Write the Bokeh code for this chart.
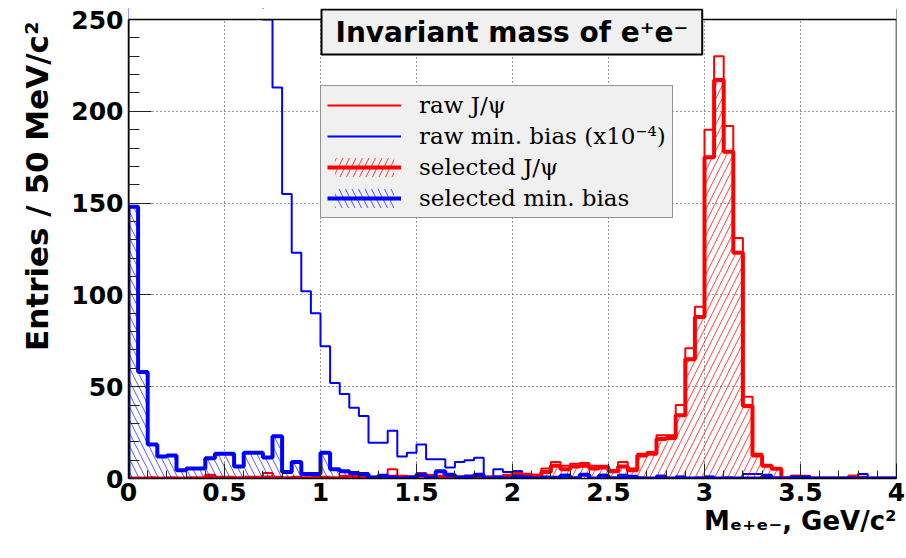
import numpy as np
from bokeh.plotting import figure
from bokeh.models import (Range1d, SingleIntervalTicker, Legend, LegendItem, Label,
                          NumeralTickFormatter, Title, BoxAnnotation, Span)
from bokeh.embed import file_html
from bokeh.resources import INLINE

# ---------------- data (entries per 50 MeV/c^2 bin, 0 .. 4 GeV/c^2) ----------------
BIN_WIDTH = 0.05
N_BINS = 80
X_MIN, X_MAX = 0.0, 4.0
Y_MIN, Y_MAX = 0.0, 250.0

raw_jpsi = [0, 0, 0.5, 0, 0.5, 0, 0.5, 0.5, 2, 1,
            1, 0.5, 1, 1, 3, 1, 0.5, 1, 0.5, 1,
            1, 0.5, 1.5, 2.5, 2.5, 1, 1.5, 5, 1.5, 1,
            3, 2, 1.5, 2, 1, 1.5, 1.5, 1, 1, 2,
            4, 2.5, 2, 5.5, 9, 7, 8, 8.5, 7, 7,
            4.5, 9, 5.5, 13.5, 14.5, 23.5, 23.5, 40, 71, 93.5,
            190, 230, 192, 131, 44.5, 13.5, 7, 5.5, 0.5, 1.5,
            1.5, 0, 0, 0, 0, 1.5, 1, 0, 0, 0]

# raw minimum bias, scaled by 1e-4 (bins below 0.7 GeV/c^2 are off scale)
raw_minbias = [1400, 1250, 1100, 950, 850, 760, 680, 600, 530, 470,
               410, 360, 320, 280, 250, 213, 155, 123, 102, 90,
               72, 52, 46, 38.5, 34, 19.5, 19.5, 26, 12, 14,
               18.5, 10.5, 10.5, 6, 9, 10, 11.3, 1, 5, 3.5,
               4, 0.5, 0, 0.5, 1, 2, 0.5, 2.5, 0, 2,
               0.5, 2, 0, 0.5, 0, 1.5, 0, 1, 0, 0.5,
               1, 0, 0.5, 0, 2.5, 2.5, 2, 0.5, 0, 1,
               1, 0, 0, 0, 0, 0, 2.5, 0, 0, 0]

sel_jpsi = [0, 0, 0, 0, 0, 0, 0, 0, 1, 0,
            0, 0, 0, 0, 0.5, 0, 0, 0, 0, 0,
            0, 0, 0.5, 1, 1, 0, 0.5, 1, 0.5, 0.5,
            1.5, 1, 0.5, 1, 0.5, 1, 0.5, 0.5, 0.5, 1,
            2.5, 2, 1.5, 3.5, 7, 5, 6.5, 7, 5.5, 6,
            4, 6.5, 4.5, 12.5, 13.5, 21.5, 22, 34.5, 65, 88,
            175, 217, 178, 123, 39.5, 12.5, 7, 5.3, 0, 1,
            0.5, 0, 0, 0, 0, 1, 0, 0, 0, 0]

sel_minbias = [148, 58, 18.5, 12, 12.5, 4.5, 5.5, 5.5, 11, 13.5,
               13.5, 6.5, 14, 14, 11.5, 23, 3.5, 9, 2.5, 2.5,
               14, 5, 4, 3, 2.5, 0.5, 1.5, 0.5, 0, 0.5,
               2, 0.5, 4, 2, 0.5, 1, 2, 0, 0.5, 0,
               1, 0.5, 0, 0.5, 0, 1.5, 0, 2, 0, 1.5,
               0, 0.5, 1, 0, 0, 1, 0, 0.5, 0, 0,
               0.5, 0, 0, 0, 0, 0, 1, 0, 0, 0.5,
               0.5, 0, 0, 0, 0, 0, 0, 0, 0, 0]

labels = ["raw J/\u03c8", "raw min. bias (x10\u207b\u2074)",
          "selected J/\u03c8", "selected min. bias"]
title_text = "Invariant mass of e\u207ae\u207b"
x_title = "M\u2091\u208a\u2091\u208b, GeV/c\u00b2"
y_title = "Entries / 50 MeV/c\u00b2"

edges = np.round(np.arange(N_BINS + 1) * BIN_WIDTH, 3)
lefts, rights = edges[:-1], edges[1:]

RED, BLUE = "#ff0000", "#0000ff"

# ---------------- geometry (pixels) ----------------
W, H = 906, 558
B_LEFT, B_RIGHT, B_BOTTOM = 128, 10, 80
AXIS_TOP_PX = 19          # canvas y where the y axis ends (value Y_MAX)
CANVAS_TOP_PX = 8         # frame extends up to here so the title box is not clipped
FRAME_BOTTOM_PX = H - B_BOTTOM
axis_px = FRAME_BOTTOM_PX - AXIS_TOP_PX
frame_px = FRAME_BOTTOM_PX - CANVAS_TOP_PX
y_end = Y_MIN + (Y_MAX - Y_MIN) * frame_px / axis_px


def outline(vals):
    xs = [float(edges[0])] + [float(e) for e in edges]
    ys = [0.0] + [float(v) for v in vals] + [0.0]
    return xs, ys


p = figure(width=W, height=H, output_backend="svg", toolbar_location=None,
           x_range=Range1d(X_MIN, X_MAX), y_range=Range1d(Y_MIN, y_end),
           min_border_left=B_LEFT, min_border_right=B_RIGHT,
           min_border_top=CANVAS_TOP_PX, min_border_bottom=B_BOTTOM)
p.background_fill_color = "white"
p.border_fill_color = "white"
p.outline_line_color = None

# axes
p.xaxis.ticker = SingleIntervalTicker(interval=0.5, num_minor_ticks=5)
p.yaxis.ticker = SingleIntervalTicker(interval=50, num_minor_ticks=5)
p.yaxis.bounds = (Y_MIN, Y_MAX)
p.xaxis.formatter = NumeralTickFormatter(format="0.[0]")
for ax in (p.xaxis[0], p.yaxis[0]):
    ax.axis_line_color = "black"
    ax.axis_line_width = 1.5
    ax.major_tick_out = 0
    ax.minor_tick_out = 0
    ax.major_tick_line_color = "#222222"
    ax.minor_tick_line_color = "#222222"
    ax.major_label_text_font = "DejaVu Sans"
    ax.major_label_text_font_style = "bold"
    ax.major_label_text_font_size = "25px"
    ax.major_label_text_color = "black"
p.xaxis.major_tick_in = 15
p.xaxis.minor_tick_in = 8
p.yaxis.major_tick_in = 23
p.yaxis.minor_tick_in = 11
p.xaxis.major_label_standoff = 4
p.yaxis.major_label_standoff = 5

p.grid.grid_line_color = "#333333"
p.grid.grid_line_dash = "1 3"
p.grid.grid_line_width = 1

# axis titles (ROOT style: flush with the axis end)
p.add_layout(Title(text=x_title, align="right", text_font="DejaVu Sans",
                   text_font_style="bold", text_font_size="26px",
                   text_color="black", standoff=0), "below")
p.add_layout(Title(text=y_title, align="right", text_font="DejaVu Sans",
                   text_font_style="bold", text_font_size="31px",
                   text_color="black", standoff=28,
                   offset=AXIS_TOP_PX - CANVAS_TOP_PX + 2),
             "left")

# histograms
xs, ys = outline(raw_jpsi)
r_raw_j = p.step(xs, ys, mode="after", line_color=RED, line_width=2)
xs, ys = outline(raw_minbias)
r_raw_m = p.step(xs, ys, mode="after", line_color=BLUE, line_width=2)

q_sel_j = p.quad(left=lefts, right=rights, bottom=0, top=sel_jpsi,
                 fill_alpha=0, line_alpha=0, hatch_pattern="/",
                 hatch_color=RED, hatch_alpha=0.75, hatch_scale=13, hatch_weight=1)
xs, ys = outline(sel_jpsi)
r_sel_j = p.step(xs, ys, mode="after", line_color=RED, line_width=4)

q_sel_m = p.quad(left=lefts, right=rights, bottom=0, top=sel_minbias,
                 fill_alpha=0, line_alpha=0, hatch_pattern="\\",
                 hatch_color=BLUE, hatch_alpha=0.65, hatch_scale=13, hatch_weight=1)
xs, ys = outline(sel_minbias)
r_sel_m = p.step(xs, ys, mode="after", line_color=BLUE, line_width=4)

# legend-only white boxes for the raw entries
white_box = p.quad(left=[], right=[], top=[], bottom=[], fill_color="white",
                   line_alpha=0)

# frame: right edge, white mask above the axis end, top edge
p.add_layout(Span(location=X_MAX, dimension="height", line_color="black", line_width=1.5))
p.add_layout(BoxAnnotation(bottom=Y_MAX, fill_color="white", fill_alpha=1,
                           line_alpha=0))
p.add_layout(Span(location=Y_MAX, dimension="width", line_color="black", line_width=1.5))

legend = Legend(items=[
    LegendItem(label=labels[0], renderers=[white_box, r_raw_j]),
    LegendItem(label=labels[1], renderers=[white_box, r_raw_m]),
    LegendItem(label=labels[2], renderers=[q_sel_j, r_sel_j]),
    LegendItem(label=labels[3], renderers=[q_sel_m, r_sel_m]),
], location=(320 - B_LEFT, FRAME_BOTTOM_PX - 218))
legend.margin = 0
legend.padding = 6
legend.spacing = 5
legend.glyph_width = 74
legend.glyph_height = 24
legend.label_height = 24
legend.label_standoff = 18
legend.label_text_font = "DejaVu Serif"
legend.label_text_font_size = "23px"
legend.label_text_color = "black"
legend.background_fill_color = "#f0f0f0"
legend.background_fill_alpha = 1
legend.border_line_color = "#333333"
legend.border_line_width = 1.5
p.add_layout(legend)

# title box (ROOT-style with shadow)
common = dict(x=321 - B_LEFT, y=FRAME_BOTTOM_PX - 9, x_units="screen", y_units="screen",
              text=title_text, text_font="DejaVu Sans", text_font_style="bold",
              text_font_size="28px", text_align="left", text_baseline="top")
shadow = Label(x_offset=3, y_offset=-3, text_alpha=0, background_fill_color="#444444",
               background_fill_alpha=1, **common)
title = Label(text_color="black", background_fill_color="#f0f0f0",
              background_fill_alpha=1, border_line_color="black",
              border_line_width=2, **common)
for lab in (shadow, title):
    try:
        lab.padding = dict(left=14, right=14, top=6, bottom=6)
    except Exception:
        lab.padding = 6
    p.add_layout(lab)

open("out.html", "w").write(file_html(p, INLINE))
